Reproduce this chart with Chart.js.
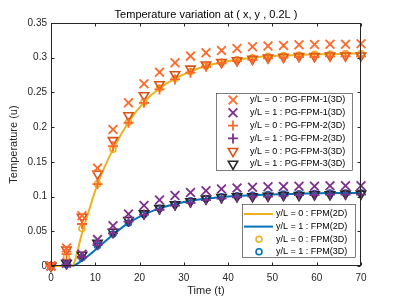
<!DOCTYPE html>
<html>
<head>
<meta charset="utf-8">
<script src="https://cdn.jsdelivr.net/npm/chart.js@4.4.1/dist/chart.umd.min.js"></script>
<style>
  html, body { margin: 0; padding: 0; background: #fff; }
  #wrap { width: 399px; height: 299px; }
</style>
</head>
<body>
<div id="wrap"><canvas id="chart" width="399" height="299"></canvas></div>
<script>
// ── Data ──────────────────────────────────────────────────────────
const times = [0, 3.5, 7, 10.5, 14, 17.5, 21, 24.5, 28, 31.5, 35, 38.5, 42, 45.5, 49, 52.5, 56, 59.5, 63, 66.5, 70];

// PG-FPM markers, y/L = 0
const pg1Top = [0, 0.026, 0.0725, 0.141, 0.1967, 0.235, 0.2625, 0.279, 0.2928, 0.3023, 0.307, 0.3105, 0.3134, 0.3157, 0.317, 0.3177, 0.3186, 0.319, 0.3195, 0.3195, 0.32];
const pg2Top = [0, 0.017, 0.0605, 0.118, 0.1726, 0.2063, 0.235, 0.2543, 0.2687, 0.2784, 0.287, 0.292, 0.295, 0.297, 0.299, 0.300, 0.301, 0.301, 0.302, 0.302, 0.302];
const pg3Top = [0, 0.0235, 0.0706, 0.1325, 0.181, 0.2169, 0.2457, 0.2615, 0.276, 0.284, 0.29, 0.2935, 0.296, 0.298, 0.3, 0.301, 0.302, 0.302, 0.303, 0.303, 0.303];

// PG-FPM markers, y/L = 1
const pg1Bot = [0, 0.004, 0.017, 0.038, 0.058, 0.075, 0.087, 0.095, 0.1015, 0.106, 0.1085, 0.111, 0.1124, 0.1133, 0.114, 0.1145, 0.115, 0.115, 0.1155, 0.1155, 0.1157];
const pg2Bot = [0, 0.002, 0.013, 0.03, 0.047, 0.064, 0.074, 0.081, 0.087, 0.091, 0.095, 0.097, 0.099, 0.1, 0.1, 0.101, 0.102, 0.102, 0.103, 0.103, 0.103];
const pg3Bot = [0, 0.004, 0.016, 0.033, 0.049, 0.066, 0.0755, 0.083, 0.0885, 0.093, 0.097, 0.099, 0.1, 0.1, 0.101, 0.102, 0.102, 0.103, 0.103, 0.104, 0.104];

// FPM(3D) circles
const fpm3dTop = [0, 0.013, 0.054, 0.118, 0.168, 0.207, 0.236, 0.256, 0.27, 0.28, 0.288, 0.293, 0.297, 0.3, 0.302, 0.303, 0.304, 0.305, 0.305, 0.306, 0.306];
const fpm3dBot = [0, 0.002, 0.012, 0.029, 0.046, 0.062, 0.074, 0.083, 0.089, 0.094, 0.097, 0.0995, 0.101, 0.102, 0.103, 0.1035, 0.104, 0.1045, 0.105, 0.105, 0.105];

// FPM(2D) curves
const lineTimes = [0, 3.5, 4.7, 7, 10.5, 14, 17.5, 21, 24.5, 28, 31.5, 35, 38.5, 42, 45.5, 49, 52.5, 56, 59.5, 63, 66.5, 70];
const fpm2dTop  = [0, 0, 0, 0.047, 0.118, 0.168, 0.207, 0.236, 0.256, 0.27, 0.28, 0.288, 0.293, 0.297, 0.3, 0.302, 0.303, 0.304, 0.305, 0.305, 0.306, 0.306];
const fpm2dBot  = [0, 0, 0, 0.008, 0.026, 0.045, 0.062, 0.074, 0.083, 0.089, 0.094, 0.097, 0.0995, 0.101, 0.102, 0.103, 0.1035, 0.104, 0.1045, 0.105, 0.105, 0.105];

const xTicks = [0, 10, 20, 30, 40, 50, 60, 70];
const yTicks = [0, 0.05, 0.1, 0.15, 0.2, 0.25, 0.3, 0.35];

// ── Styles ────────────────────────────────────────────────────────
const AXIS   = '#262626';
const FONT   = "'Liberation Sans', Arial, sans-serif";
const ORANGE = '#FF6929';
const PURPLE = '#7E2F8E';
const RUST   = '#D95319';
const DARK   = '#262626';
const YELLOW = '#EDB120';
const BLUE   = '#0072BD';

const pts = (xs, ys) => xs.map((x, i) => ({ x, y: ys[i] }));

const MARK = {
  x:   { pointStyle: 'crossRot', radius: 6.2, rotation: 0,   borderWidth: 1.8 },
  p:   { pointStyle: 'cross',    radius: 5,   rotation: 0,   borderWidth: 1.8 },
  v:   { pointStyle: 'triangle', radius: 5.4, rotation: 180, borderWidth: 1.6 },
  o:   { pointStyle: 'circle',   radius: 3,   rotation: 0,   borderWidth: 1.6 },
};

function markerSet(label, ys, color, m, order) {
  return {
    label, data: pts(times, ys), order, clip: false,
    showLine: false,
    pointStyle: m.pointStyle, pointRadius: m.radius, pointRotation: m.rotation,
    pointBorderWidth: m.borderWidth, pointBorderColor: color,
    pointBackgroundColor: 'rgba(0,0,0,0)', borderColor: color,
  };
}

function lineSet(label, ys, color, order) {
  return {
    label, data: pts(lineTimes, ys), order, clip: false,
    showLine: true, borderColor: color, borderWidth: 2,
    pointRadius: 0, cubicInterpolationMode: 'monotone', fill: false,
  };
}

// ── Legends and box (MATLAB-style inward ticks) ───────────────────
const LEG1 = [
  { text: 'y/L = 0 : PG-FPM-1(3D)', color: ORANGE, m: MARK.x },
  { text: 'y/L = 1 : PG-FPM-1(3D)', color: PURPLE, m: MARK.x },
  { text: 'y/L = 0 : PG-FPM-2(3D)', color: ORANGE, m: MARK.p },
  { text: 'y/L = 1 : PG-FPM-2(3D)', color: PURPLE, m: MARK.p },
  { text: 'y/L = 0 : PG-FPM-3(3D)', color: RUST,   m: MARK.v },
  { text: 'y/L = 1 : PG-FPM-3(3D)', color: DARK,   m: MARK.v },
];
const LEG2 = [
  { text: 'y/L = 0 : FPM(2D)', color: YELLOW, line: true },
  { text: 'y/L = 1 : FPM(2D)', color: BLUE,   line: true },
  { text: 'y/L = 0 : FPM(3D)', color: YELLOW, m: MARK.o },
  { text: 'y/L = 1 : FPM(3D)', color: BLUE,   m: MARK.o },
];

function drawLegend(ctx, box, items, markX, textX, y0, step) {
  ctx.save();
  ctx.fillStyle = '#fff';
  ctx.fillRect(box.x, box.y, box.w, box.h);
  ctx.strokeStyle = AXIS;
  ctx.lineWidth = 0.6;
  ctx.strokeRect(box.x + 0.5, box.y + 0.5, box.w, box.h);
  ctx.font = '9px ' + FONT;
  ctx.textBaseline = 'middle';
  items.forEach((it, i) => {
    const y = y0 + i * step;
    if (it.line) {
      ctx.strokeStyle = it.color;
      ctx.lineWidth = 2;
      ctx.beginPath();
      ctx.moveTo(box.x + 2, y);
      ctx.lineTo(textX - 3, y);
      ctx.stroke();
    } else {
      ctx.strokeStyle = it.color;
      ctx.fillStyle = 'rgba(0,0,0,0)';
      ctx.lineWidth = it.m.borderWidth;
      Chart.helpers.drawPoint(ctx, it.m, markX, y);
    }
    ctx.fillStyle = '#000';
    ctx.fillText(it.text, textX, y);
  });
  ctx.restore();
}

const matlabFrame = {
  id: 'matlabFrame',
  afterDatasetsDraw(chart) {
    const { ctx, chartArea: a, scales: { x, y } } = chart;
    const L = Math.round(a.left) + 0.5, R = Math.round(a.right) - 0.5;
    const T = Math.round(a.top) + 0.5,  B = Math.round(a.bottom) - 0.5;
    ctx.save();
    ctx.strokeStyle = AXIS;
    ctx.lineWidth = 1;
    ctx.strokeRect(L, T, R - L, B - T);
    ctx.beginPath();
    yTicks.forEach(v => {
      const p = Math.round(y.getPixelForValue(v)) + 0.5;
      ctx.moveTo(L, p); ctx.lineTo(L + 3, p);
      ctx.moveTo(R, p); ctx.lineTo(R - 3, p);
    });
    xTicks.forEach(v => {
      const p = Math.round(x.getPixelForValue(v)) + 0.5;
      ctx.moveTo(p, B); ctx.lineTo(p, B - 3);
      ctx.moveTo(p, T); ctx.lineTo(p, T + 3);
    });
    ctx.stroke();
    ctx.restore();
  },
  afterDraw(chart) {
    const ctx = chart.ctx;
    drawLegend(ctx, { x: 216, y: 93, w: 136, h: 77 }, LEG1, 233, 250, 100, 12.8);
    drawLegend(ctx, { x: 242, y: 204, w: 113, h: 53 }, LEG2, 259, 276, 214, 12.6);
  },
};

// ── Chart ─────────────────────────────────────────────────────────
new Chart(document.getElementById('chart'), {
  type: 'scatter',
  data: {
    datasets: [
      markerSet('y/L = 0 : PG-FPM-1(3D)', pg1Top, ORANGE, MARK.x, 1),
      markerSet('y/L = 1 : PG-FPM-1(3D)', pg1Bot, PURPLE, MARK.x, 1),
      markerSet('y/L = 0 : PG-FPM-2(3D)', pg2Top, ORANGE, MARK.p, 2),
      markerSet('y/L = 1 : PG-FPM-2(3D)', pg2Bot, PURPLE, MARK.p, 2),
      markerSet('y/L = 0 : PG-FPM-3(3D)', pg3Top, RUST,   MARK.v, 3),
      markerSet('y/L = 1 : PG-FPM-3(3D)', pg3Bot, DARK,   MARK.v, 3),
      markerSet('y/L = 0 : FPM(3D)', fpm3dTop, YELLOW, MARK.o, 4),
      markerSet('y/L = 1 : FPM(3D)', fpm3dBot, BLUE,   MARK.o, 4),
      lineSet('y/L = 0 : FPM(2D)', fpm2dTop, YELLOW, 5),
      lineSet('y/L = 1 : FPM(2D)', fpm2dBot, BLUE,   5),
    ],
  },
  options: {
    responsive: false,
    animation: false,
    events: [],
    devicePixelRatio: 1,
    layout: { padding: { left: 0, right: 38, top: 0, bottom: 0 } },
    plugins: {
      legend: { display: false },
      tooltip: { enabled: false },
      title: {
        display: true,
        fullSize: false,
        text: 'Temperature variation at ( x, y , 0.2L )',
        color: '#000',
        font: { family: FONT, size: 11, weight: 'normal', lineHeight: 1.2 },
        padding: { top: 8, bottom: 1.8 },
      },
    },
    scales: {
      x: {
        type: 'linear', min: 0, max: 70,
        afterFit: s => { s.height = 33; },
        afterBuildTicks: s => { s.ticks = xTicks.map(v => ({ value: v })); },
        grid: { display: false, drawTicks: false },
        border: { display: false },
        ticks: { color: AXIS, padding: 6, maxRotation: 0, font: { family: FONT, size: 10 } },
        title: {
          display: true, text: 'Time (t)', color: AXIS,
          font: { family: FONT, size: 11, lineHeight: 1.2 },
          padding: { top: 0, bottom: 1 },
        },
      },
      y: {
        type: 'linear', min: 0, max: 0.35,
        afterFit: s => { s.width = 51; },
        afterBuildTicks: s => { s.ticks = yTicks.map(v => ({ value: v })); },
        grid: { display: false, drawTicks: false },
        border: { display: false },
        ticks: {
          color: AXIS, padding: 4, font: { family: FONT, size: 10 },
          callback: v => String(+v.toFixed(2)),
        },
        title: {
          display: true, text: 'Temperature (u)', color: AXIS,
          font: { family: FONT, size: 11, lineHeight: 1.2 },
          padding: { top: 7.5, bottom: 0 },
        },
      },
    },
  },
  plugins: [matlabFrame],
});
</script>
</body>
</html>
